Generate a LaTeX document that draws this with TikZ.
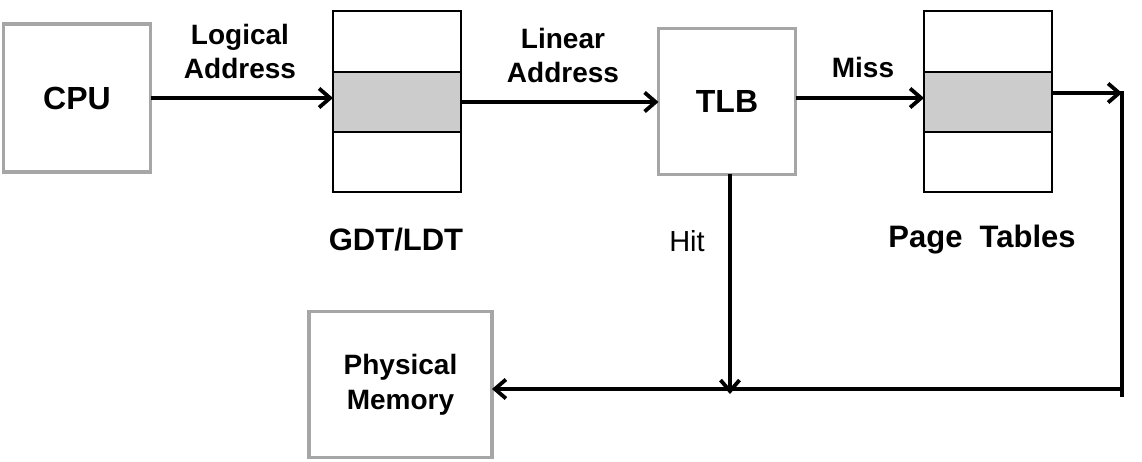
\documentclass[tikz,border=0pt]{standalone}
\usepackage{fontspec}
\setmainfont{Liberation Sans}
\usepackage{tikz}
\usetikzlibrary{arrows.meta, positioning, calc}
\definecolor{boxgray}{HTML}{A6A6A6}
\definecolor{rowgray}{HTML}{CCCCCC}

\begin{document}
\begin{tikzpicture}[x=1pt, y=-1pt,
  unit/.style={draw=boxgray, line width=3.5pt, inner sep=0pt, outer sep=0pt, align=center,
    font=\fontsize{32}{36}\selectfont\bfseries},
  row/.style={draw=black, line width=1.8pt, minimum width=128pt, minimum height=60pt,
    inner sep=0pt, outer sep=0pt},
  flow/.style={line width=3.8pt, -{Straight Barb[length=11pt, width=19pt]}},
  wire/.style={line width=3.8pt},
  tag/.style={font=\fontsize{28}{34}\selectfont\bfseries, align=center}]

  \useasboundingbox (0,0) rectangle (1142,462);

  %% Units
  \node[unit, minimum width=147pt, minimum height=148pt] (cpu) at (77,98) {CPU};
  \node[unit, minimum width=137pt, minimum height=146pt] (tlb) at (727,101.5) {TLB};
  \node[unit, minimum width=183pt, minimum height=146pt,
    font=\fontsize{28}{35}\selectfont\bfseries] (pm) at (400.5,384.5) {Physical\\Memory};

  %% Tables: three rows each, middle row shaded
  \node[row, minimum height=61pt] (gdt-top) at (397,41.5) {};
  \node[row, fill=rowgray, below=0pt of gdt-top] (gdt) {};
  \node[row, below=0pt of gdt] (gdt-bot) {};
  \node[row, minimum height=61pt] (pt-top) at (988,41.5) {};
  \node[row, fill=rowgray, below=0pt of pt-top] (pt) {};
  \node[row, below=0pt of pt] (pt-bot) {};

  \node[tag, font=\fontsize{31}{36}\selectfont\bfseries] (gdt-name) at (396,240) {GDT/LDT};
  \node[tag, font=\fontsize{31}{36}\selectfont\bfseries] (pt-name) at (982,240) {Page~~Tables};

  %% Turning points on the right
  \coordinate (turn) at (1122,93);
  \coordinate (corner) at (1122,397);
  \coordinate (merge) at (1122,389);
  \coordinate (hit-end) at (730,394);

  %% Connectors
  \draw[flow] (cpu.east) -- (cpu.east -| gdt.west);
  \draw[flow] (gdt.east) -- (gdt.east -| tlb.west);
  \draw[flow] ([yshift=3.5pt]tlb.east) -- ([yshift=3.5pt]tlb.east -| pt.west);
  \draw[flow] (pt.east |- turn) -- (turn);
  \draw[wire] ([yshift=1.9pt]turn) -- (corner);
  \draw[flow] (merge) -- (merge -| pm.east);
  \draw[flow] (tlb.south -| hit-end) -- (hit-end);

  %% Labels
  \node[tag] (logical) at (240,51) {Logical\\Address};
  \node[tag] (linear) at (563,55) {Linear\\Address};
  \node[tag] (miss) at (863,67) {Miss};
  \node[tag, font=\fontsize{29}{34}\selectfont] (hit) at (687,241) {Hit};

\end{tikzpicture}
\end{document}
